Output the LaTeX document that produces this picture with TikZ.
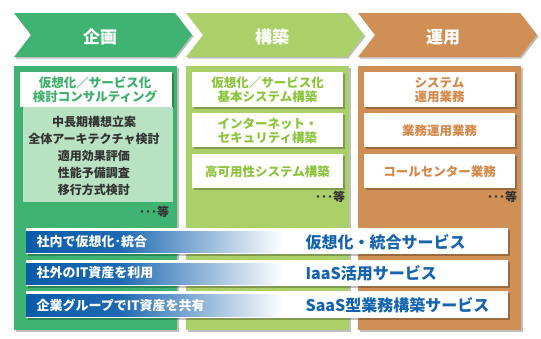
\documentclass[tikz,border=0pt]{standalone}
\usepackage{fontspec}
\newfontfamily\jp{Noto Sans CJK JP}
\usetikzlibrary{shadows}
\definecolor{cgreen}{HTML}{3FB371}
\definecolor{clgreen}{HTML}{ABD06A}
\definecolor{corange}{HTML}{D08F55}
\definecolor{cpanel}{HTML}{B8E2C2}
\definecolor{tgreen}{HTML}{3DAF6A}
\definecolor{tlgreen}{HTML}{8CC43C}
\definecolor{torange}{HTML}{D4894A}
\definecolor{cblue}{HTML}{0A5CAA}
\definecolor{tblue}{HTML}{1464AF}
\definecolor{tgray}{HTML}{333333}
\pgfdeclarehorizontalshading{bluefade}{100bp}{color(0bp)=(cblue); color(25bp)=(cblue); color(43bp)=(cblue!92!white); color(75bp)=(white); color(100bp)=(white)}
\tikzset{
  shd/.style={drop shadow={shadow xshift=1.5pt,shadow yshift=-1.5pt,opacity=0.25,fill=black}},
  wbox/.style={fill=white,shd,inner sep=0pt,anchor=north west},
  chevtext/.style={text=white,font=\jp\bfseries\fontsize{17}{20}\selectfont},
  headtext/.style={font=\jp\bfseries\fontsize{12.5}{14}\selectfont,align=center},
  paneltext/.style={text=tgray,font=\jp\bfseries\fontsize{12}{17}\selectfont,align=center},
  etc/.style={text=tgray,font=\jp\bfseries\fontsize{12}{14}\selectfont},
  lefttext/.style={text=white,anchor=west,font=\jp\bfseries\fontsize{13}{15}\selectfont},
  righttext/.style={text=tblue,anchor=west,font=\jp\bfseries\fontsize{16}{18}\selectfont},
}
\begin{document}
\begin{tikzpicture}[x=1pt,y=-1pt,font=\jp]
\fill[white] (0,0) rectangle (541,338);
\useasboundingbox (0,0) rectangle (541,338);
% chevrons
\path[fill=cgreen,shd] (14,13) -- (175,13) -- (192,35) -- (175,57) -- (14,57) -- (31,35) -- cycle;
\path[fill=clgreen,shd] (186,13) -- (347,13) -- (364,35) -- (347,57) -- (186,57) -- (203,35) -- cycle;
\path[fill=corange,shd] (358,13) -- (520,13) -- (537,35) -- (520,57) -- (358,57) -- (375,35) -- cycle;
\node[chevtext] (h1) at (100,37) {企画};
\node[chevtext] (h2) at (272,37) {構築};
\node[chevtext] (h3) at (443,37) {運用};
% columns
\path[fill=cgreen,shd] (14,66) rectangle (177,330);
\path[fill=clgreen,shd] (186,66) rectangle (349,330);
\path[fill=corange,shd] (358,66) rectangle (521,330);
% column 1
\node[wbox,minimum width=152pt,minimum height=35pt] (c1a) at (20,72) {};
\node[headtext,text=tgreen] (c1at) at (95,89.5) {仮想化／サービス化\\検討コンサルティング};
\fill[cpanel] (23,107) rectangle (173,202);
\node[paneltext] (c1p) at (94,156) {中長期構想立案\\全体アーキテクチャ検討\\適用効果評価\\性能予備調査\\移行方式検討};
\node[etc] (c1e) at (154,212) {･･･等};
% column 2
\node[wbox,minimum width=151pt,minimum height=35pt] (c2a) at (192,72) {};
\node[headtext,text=tlgreen] (c2at) at (267.5,90) {仮想化／サービス化\\基本システム構築};
\node[wbox,minimum width=151pt,minimum height=34pt] (c2b) at (192,113) {};
\node[headtext,text=tlgreen] (c2bt) at (267.5,130.5) {インターネット・\\セキュリティ構築};
\node[wbox,minimum width=151pt,minimum height=34pt] (c2c) at (192,154) {};
\node[headtext,text=tlgreen] (c2ct) at (267.5,172) {高可用性システム構築};
\node[etc] (c2e) at (330,197) {･･･等};
% column 3
\node[wbox,minimum width=151pt,minimum height=35pt] (c3a) at (364,72) {};
\node[headtext,text=torange] (c3at) at (439.5,90) {システム\\運用業務};
\node[wbox,minimum width=151pt,minimum height=34pt] (c3b) at (364,113) {};
\node[headtext,text=torange] (c3bt) at (439.5,131) {業務運用業務};
\node[wbox,minimum width=151pt,minimum height=34pt] (c3c) at (364,154) {};
\node[headtext,text=torange] (c3ct) at (439.5,172) {コールセンター業務};
\node[etc] (c3e) at (502,197) {･･･等};
% bars
\node[wbox,minimum width=482pt,minimum height=26pt] (b1) at (26,228) {};
\fill[shading=bluefade] (26,231) rectangle (283,252);
\node[lefttext] (b1l) at (33,242) {社内で仮想化･統合};
\node[righttext] (b1r) at (302,242) {仮想化・統合サービス};
\node[wbox,minimum width=482pt,minimum height=26pt] (b2) at (26,260) {};
\fill[shading=bluefade] (26,263) rectangle (283,284);
\node[lefttext] (b2l) at (33,273) {社外のIT資産を利用};
\node[righttext] (b2r) at (302,273) {IaaS活用サービス};
\node[wbox,minimum width=482pt,minimum height=27pt] (b3) at (26,291) {};
\fill[shading=bluefade] (26,294) rectangle (283,316);
\node[lefttext] (b3l) at (33,305) {企業グループでIT資産を共有};
\node[righttext] (b3r) at (302,305) {SaaS型業務構築サービス};
\end{tikzpicture}
\end{document}
